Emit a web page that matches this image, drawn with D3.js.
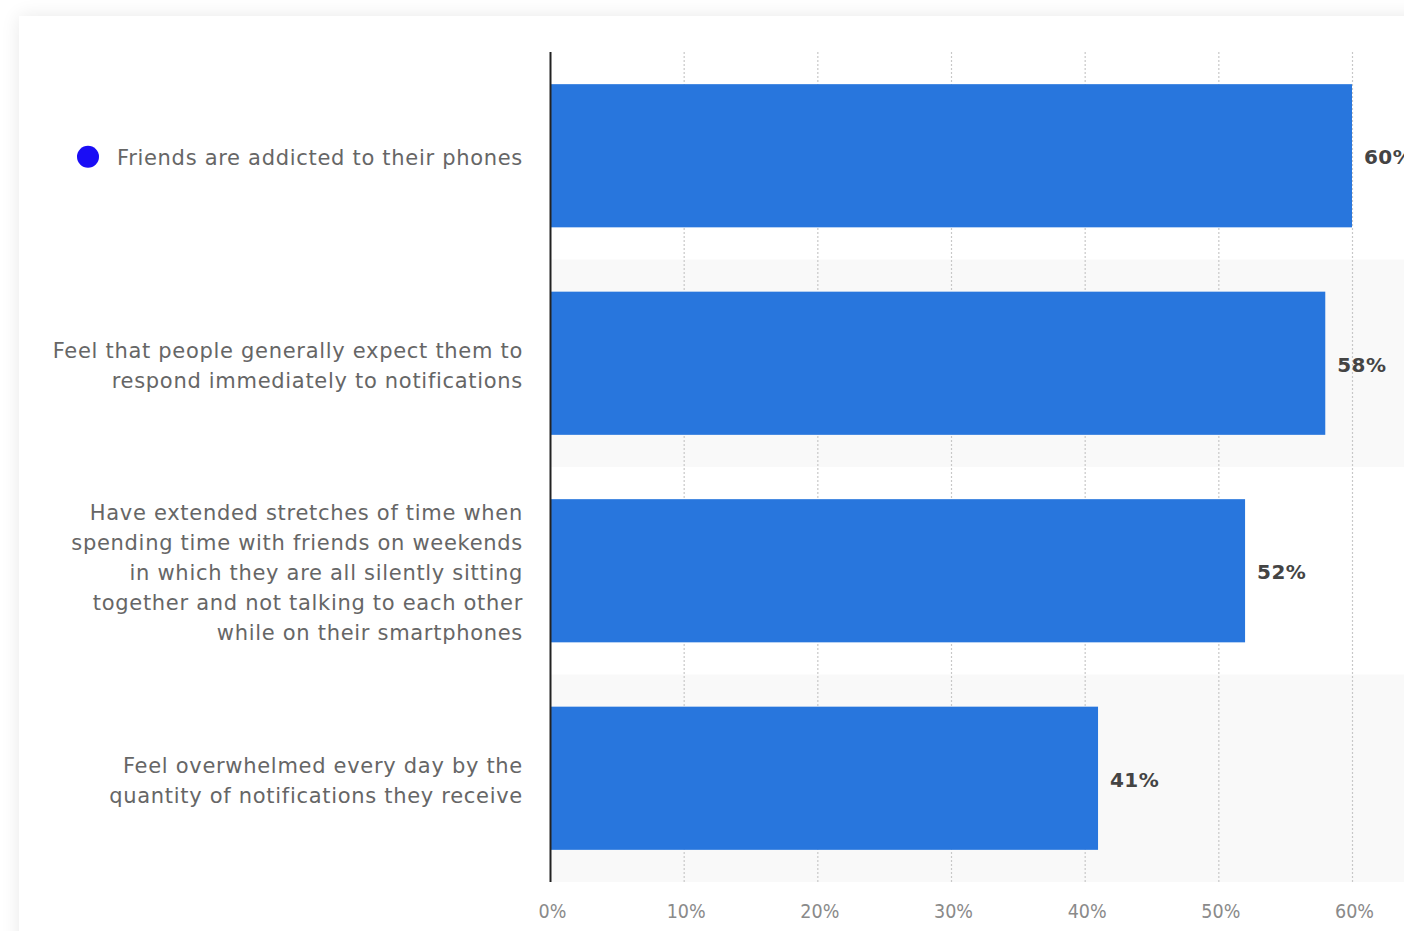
<!DOCTYPE html>
<html><head><meta charset="utf-8">
<script src="https://cdn.jsdelivr.net/npm/d3@7"></script>
<style>
html,body{margin:0;padding:0;background:#fff;overflow:hidden;}
#card{position:absolute;left:19px;top:16px;width:1500px;height:1000px;background:#fff;box-shadow:0 0 18px rgba(0,0,0,0.09);}
svg{position:absolute;left:0;top:0;}
</style></head>
<body>
<div id="card"></div>
<svg id="chart" width="1404" height="931"></svg>
<script>
const categories = [
  "Friends are addicted to their phones",
  "Feel that people generally expect them to\nrespond immediately to notifications",
  "Have extended stretches of time when\nspending time with friends on weekends\nin which they are all silently sitting\ntogether and not talking to each other\nwhile on their smartphones",
  "Feel overwhelmed every day by the\nquantity of notifications they receive"
];
const values = [60, 58, 52, 41];
const tickValues = [0, 10, 20, 30, 40, 50, 60];
const tickLabels = ["0%", "10%", "20%", "30%", "40%", "50%", "60%"];

const svg = d3.select("#chart");
const x = d3.scaleLinear().domain([0, 60]).range([550, 1352]);
const y = d3.scaleBand().domain(categories).range([52, 882]).paddingInner(0.31).paddingOuter(0.155);
const step = y.step();

// alternating bands
svg.append("g").selectAll("rect").data(categories.filter((d,i)=>i%2===1)).join("rect")
  .attr("x", 550).attr("width", 1404-550)
  .attr("y", d => y(d) - y.paddingInner()*step/2)
  .attr("height", step)
  .attr("fill", "#f9f9f9");

// gridlines
svg.append("g").selectAll("line").data(tickValues.filter(v=>v>0)).join("line")
  .attr("x1", d=>x(d)+0.5).attr("x2", d=>x(d)+0.5)
  .attr("y1", 52).attr("y2", 882)
  .attr("stroke", "#c8c8c8").attr("stroke-width", 1.2).attr("stroke-dasharray", "2,2");

// bars
svg.append("g").selectAll("rect").data(values).join("rect")
  .attr("x", x(0)).attr("y", (d,i)=>y(categories[i]))
  .attr("width", d=>x(d)-x(0)).attr("height", y.bandwidth())
  .attr("fill", "#2876dd");

// axis line
svg.append("line").attr("x1", 550.5).attr("x2", 550.5).attr("y1", 52).attr("y2", 882)
  .attr("stroke", "#222").attr("stroke-width", 2);

// x axis tick labels
const xAxis = d3.axisBottom(x).tickValues(tickValues).tickFormat((d,i)=>tickLabels[i]).tickSize(0).tickPadding(0);
const ax = svg.append("g").attr("transform", "translate(2,904)").call(xAxis);
ax.select(".domain").remove();
ax.selectAll("text").attr("font-family", "'DejaVu Sans Condensed','DejaVu Sans',sans-serif")
  .attr("font-size", 19.5).attr("fill", "#8a8a8a").attr("dy", "0.7em");

// value labels
svg.append("g").selectAll("text").data(values).join("text")
  .attr("x", d=>x(d)+12).attr("y", (d,i)=>y(categories[i])+y.bandwidth()/2 + 1.5)
  .attr("dy", "0.35em")
  .attr("font-family", "'DejaVu Sans',sans-serif").attr("font-weight", "bold")
  .attr("font-size", 20).attr("fill", "#444").attr("letter-spacing", 0.4)
  .text(d=>d+"%");

// category labels
const lh = 30;
categories.forEach((c,i)=>{
  const lines = c.split("\n");
  const cy = y(c) + y.bandwidth()/2 + 2;
  const t = svg.append("text").attr("text-anchor","end")
    .attr("font-family","'DejaVu Sans',sans-serif").attr("font-size",21).attr("fill","#666")
    .attr("letter-spacing", 0.7);
  lines.forEach((l,j)=>{
    t.append("tspan").attr("x",523).attr("y", cy + (j-(lines.length-1)/2)*lh).attr("dy","0.35em").text(l);
  });
});

// legend dot
svg.append("circle").attr("cx", 88).attr("cy", y(categories[0])+y.bandwidth()/2 + 1).attr("r", 11).attr("fill", "#1a0df5");
</script>
</body></html>
